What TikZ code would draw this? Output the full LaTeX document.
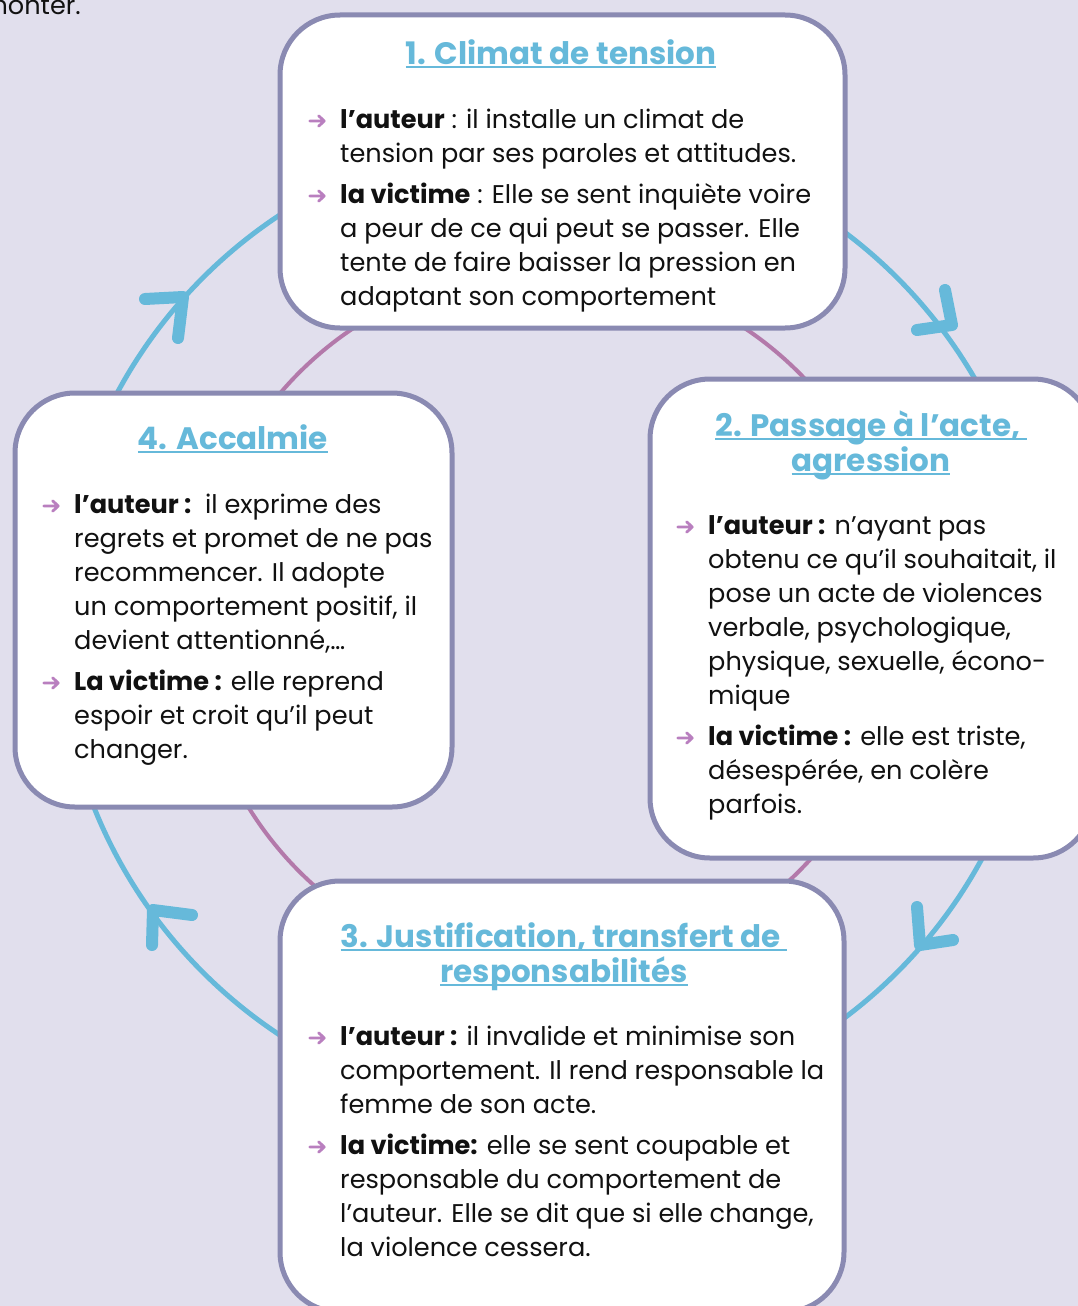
\documentclass[tikz,border=0pt]{standalone}
\usepackage{fontspec}
\setmainfont{Poppins}
\definecolor{bg}{HTML}{E1DFED}
\definecolor{boxline}{HTML}{8A8AB2}
\definecolor{cyc}{HTML}{66B9DA}
\definecolor{pinkc}{HTML}{B379AA}
\definecolor{bul}{HTML}{B97FBF}
\definecolor{ink}{HTML}{111111}
\newcommand\tul[1]{\leavevmode\setbox0=\hbox{#1}\rlap{\rule[-4pt]{\wd0}{1.8pt}}\box0}
\newcommand\barrow{\leavevmode\llap{\tikz[x=1pt,y=1pt,baseline=0pt]{\path[use as bounding box] (0,0) rectangle (17,14);\draw[bul,line width=2.8pt,line cap=round,line join=round] (1.5,7)--(16,7) (10.5,12.2)--(16,7)--(10.5,1.8);}\hspace{15pt}}}
\tikzset{
  panel/.style={draw=boxline, line width=5pt, fill=white, rounded corners=60pt, inner sep=0pt},
  ttl/.style={text=cyc, font=\fontsize{31}{35}\selectfont\bfseries, inner sep=0pt, anchor=base},
  bodytxt/.style={text=ink, font=\fontsize{25.6}{34}\selectfont, inner sep=0pt, anchor=base west},
  chev/.style={cyc, line width=12pt, line cap=round, line join=round},
}
\begin{document}
\begin{tikzpicture}[x=1pt,y=-1pt]
\useasboundingbox (0,0) rectangle (1078,1306);
\clip (0,0) rectangle (1078,1306);
\fill[bg] (0,0) rectangle (1078,1306);
\node[bodytxt, anchor=base east] (prev) at (81,15) {monter.};
% cycle circles
\draw[cyc, line width=5pt] (550,625) circle[radius=491pt];
\draw[pinkc, line width=4pt] (549,622) circle[radius=353pt];
% chevrons
\draw[chev] (145,299) -- (183,297) -- (178,338);
\draw[chev] (945,290) -- (952,325) -- (917,330);
\draw[chev] (917,907) -- (920,945) -- (953,940);
\draw[chev] (192,915) -- (153,910) -- (152,945);
% panels
\node[panel, minimum width=565pt, minimum height=313pt] (b1) at (562.5,171.5) {};
\node[panel, minimum width=443pt, minimum height=479pt] (b2) at (871.5,618.5) {};
\node[panel, minimum width=564pt, minimum height=431pt] (b3) at (562,1096.5) {};
\node[panel, minimum width=437pt, minimum height=414pt] (b4) at (233.5,600) {};
% titles
\node[ttl] (t1) at (561,64) {\tul{1. Climat de tension}};
\node[ttl] (t2) at (871,436) {\parbox[t]{420pt}{\centering\tul{2. Passage à l’acte,\ }\\\tul{agression}}};
\node[ttl] (t3) at (564,947) {\parbox[t]{540pt}{\centering\tul{3. Justification, transfert de\ }\\\tul{responsabilités}}};
\node[ttl] (t4) at (233,449) {\tul{4. Accalmie}};
% bodies
\node[bodytxt] (x1) at (340,128) {\parbox[t]{490pt}{\raggedright
\barrow\textbf{l’auteur} : il installe un climat de\\
tension par ses paroles et attitudes.\par\vspace{7pt}
\barrow\textbf{la victime} : Elle se sent inquiète voire\\
a peur de ce qui peut se passer. Elle\\
tente de faire baisser la pression en\\
adaptant son comportement}};
\node[bodytxt] (x2) at (708,534) {\parbox[t]{370pt}{\raggedright
\barrow\textbf{l’auteur :} n’ayant pas\\
obtenu ce qu’il souhaitait, il\\
pose un acte de violences\\
verbale, psychologique,\\
physique, sexuelle, écono-\\
mique\par\vspace{7pt}
\barrow\textbf{la victime :} elle est triste,\\
désespérée, en colère\\
parfois.}};
\node[bodytxt] (x3) at (340,1045) {\parbox[t]{500pt}{\raggedright
\barrow\textbf{l’auteur :} il invalide et minimise son\\
comportement. Il rend responsable la\\
femme de son acte.\par\vspace{7pt}
\barrow\textbf{la victime:} elle se sent coupable et\\
responsable du comportement de\\
l’auteur. Elle se dit que si elle change,\\
la violence cessera.}};
\node[bodytxt] (x4) at (74,513) {\parbox[t]{370pt}{\raggedright
\barrow\textbf{l’auteur :}\ \ il exprime des\\
regrets et promet de ne pas\\
recommencer. Il adopte\\
un comportement positif, il\\
devient attentionné,…\par\vspace{7pt}
\barrow\textbf{La victime :} elle reprend\\
espoir et croit qu’il peut\\
changer.}};
\end{tikzpicture}
\end{document}
